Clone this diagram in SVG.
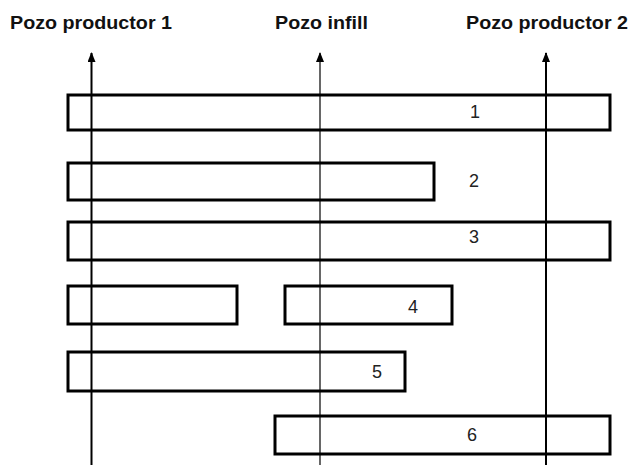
<svg xmlns="http://www.w3.org/2000/svg" width="630" height="465" viewBox="0 0 630 465">
<style>
.bar{fill:none;stroke:#000;stroke-width:3}
.well{stroke:#000;fill:none}
.t{font-family:"Liberation Sans",Arial,sans-serif;font-size:18px;font-weight:bold;fill:#111}
.n{font-family:"Liberation Sans",Arial,sans-serif;font-size:18px;fill:#222;text-anchor:middle}
</style>
<defs>
<marker id="ah" viewBox="0 0 10 8" refX="9" refY="4" markerWidth="10" markerHeight="8" markerUnits="userSpaceOnUse" orient="auto">
<path d="M0,0 L10,4 L0,8 Z" fill="#000"/>
</marker>
</defs>
<rect width="630" height="465" fill="#fff"/>
<g id="bars">
<g id="bar1"><rect class="bar" x="68" y="95" width="542" height="35"/><text class="n" x="475" y="118">1</text></g>
<g id="bar2"><rect class="bar" x="68" y="163" width="366" height="37"/><text class="n" x="474" y="187">2</text></g>
<g id="bar3"><rect class="bar" x="68" y="222" width="542" height="38"/><text class="n" x="474" y="243">3</text></g>
<g id="bar4a"><rect class="bar" x="68" y="286" width="169" height="38"/></g>
<g id="bar4b"><rect class="bar" x="285" y="286" width="167" height="38"/><text class="n" x="413" y="313">4</text></g>
<g id="bar5"><rect class="bar" x="68" y="352" width="337" height="39"/><text class="n" x="377" y="378">5</text></g>
<g id="bar6"><rect class="bar" x="275" y="416" width="335" height="38"/><text class="n" x="472" y="441">6</text></g>
</g>
<g id="connectors">
<line class="well" x1="91.5" y1="465" x2="91.5" y2="53" stroke-width="2" marker-end="url(#ah)"/>
<line class="well" x1="320" y1="465" x2="320" y2="53" stroke-width="1.2" marker-end="url(#ah)"/>
<line class="well" x1="546" y1="465" x2="546" y2="53" stroke-width="2" marker-end="url(#ah)"/>
</g>
<g id="labels">
<text class="t" x="10" y="29" textLength="162" lengthAdjust="spacingAndGlyphs">Pozo productor 1</text>
<text class="t" x="275" y="29" textLength="93" lengthAdjust="spacingAndGlyphs">Pozo infill</text>
<text class="t" x="466" y="29" textLength="162" lengthAdjust="spacingAndGlyphs">Pozo productor 2</text>
</g>
</svg>
